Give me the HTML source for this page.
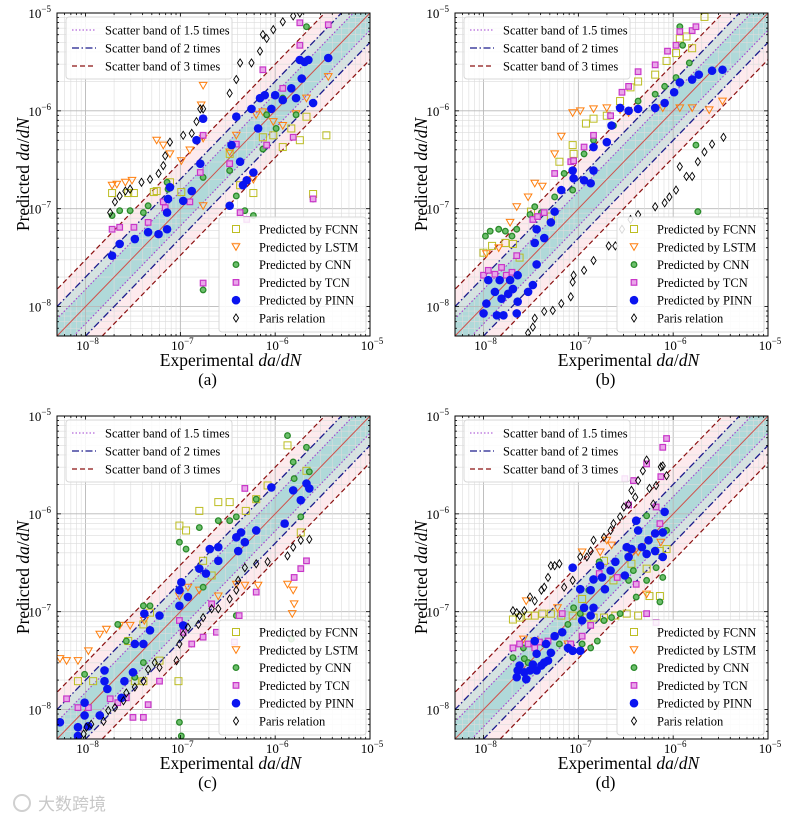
<!DOCTYPE html>
<html><head><meta charset="utf-8">
<style>
html,body{margin:0;padding:0;background:#fff;}
svg{display:block;font-family:"Liberation Serif","Noto Serif CJK SC",serif;}
</style></head>
<body>
<svg id="fig" width="812" height="820" viewBox="0 0 812 820" xmlns="http://www.w3.org/2000/svg"></svg>
<script>
// ===== Data (log10 values of da/dN: [experimental, predicted]) =====
const aFCNN=[[-7.72,-6.84],[-7.55,-6.84],[-7.49,-6.84],[-7.28,-6.83],[-7.25,-6.82],[-7.11,-6.73],[-6.99,-6.83],[-6.48,-6.44],[-6.37,-6.76],[-6.23,-6.84],[-6.13,-6.27],[-6.02,-6.25],[-5.92,-6.37],[-5.83,-6.18],[-5.74,-6.30],[-5.67,-6.06],[-5.46,-6.25],[-5.60,-6.85]];
const aLSTM=[[-7.72,-6.76],[-7.67,-6.75],[-7.58,-6.73],[-7.51,-6.71],[-7.25,-6.30],[-7.18,-6.35],[-7.11,-6.44],[-6.99,-6.51],[-6.90,-6.40],[-6.76,-5.74],[-6.78,-5.94],[-6.76,-6.28],[-6.76,-6.97],[-6.48,-6.42],[-6.41,-6.25],[-6.42,-7.38],[-6.23,-6.70],[-6.20,-6.04],[-6.13,-6.01],[-6.02,-6.11],[-5.92,-6.15],[-5.78,-6.03],[-5.67,-5.87],[-5.44,-5.65]];
const aCNN=[[-7.72,-7.07],[-7.64,-7.02],[-7.53,-7.02],[-7.39,-7.04],[-7.34,-6.97],[-7.14,-6.73],[-7.13,-6.80],[-6.76,-6.68],[-6.48,-6.61],[-6.41,-6.87],[-6.32,-7.02],[-6.23,-7.07],[-6.13,-6.39],[-6.09,-6.04],[-5.99,-6.18],[-5.92,-5.87],[-5.78,-6.04],[-5.67,-5.14],[-6.76,-7.83],[-5.60,-6.90]];
const aTCN=[[-7.72,-7.21],[-7.64,-7.19],[-7.49,-7.19],[-7.34,-7.14],[-7.18,-6.93],[-7.16,-6.99],[-6.90,-6.93],[-6.76,-6.25],[-6.79,-6.63],[-6.48,-6.54],[-6.41,-6.34],[-6.37,-7.04],[-6.30,-7.11],[-6.13,-5.58],[-6.09,-6.35],[-5.92,-5.77],[-5.81,-6.27],[-5.74,-5.33],[-5.74,-5.10],[-5.44,-5.12],[-5.60,-6.90],[-6.76,-7.76]];
const aPINN=[[-7.72,-7.48],[-7.64,-7.36],[-7.48,-7.31],[-7.34,-7.24],[-7.23,-7.26],[-7.14,-7.21],[-7.14,-7.04],[-7.13,-6.90],[-7.11,-6.78],[-6.97,-6.92],[-6.88,-6.82],[-6.83,-6.30],[-6.79,-6.54],[-6.76,-6.08],[-6.48,-6.97],[-6.46,-6.35],[-6.41,-6.06],[-6.37,-6.52],[-6.34,-6.76],[-6.30,-6.71],[-6.25,-5.98],[-6.23,-6.63],[-6.18,-6.18],[-6.16,-5.87],[-6.11,-5.84],[-6.04,-5.98],[-6.00,-5.84],[-5.92,-5.89],[-5.83,-5.77],[-5.78,-5.87],[-5.74,-5.48],[-5.72,-5.67],[-5.69,-5.50],[-5.65,-5.48],[-5.60,-5.92],[-5.44,-5.46]];
const aParis=[[-7.74,-7.04],[-7.69,-6.93],[-7.64,-6.87],[-7.58,-6.82],[-7.53,-6.80],[-7.41,-6.73],[-7.32,-6.70],[-7.23,-6.64],[-7.18,-6.56],[-7.16,-6.46],[-7.11,-6.32],[-6.97,-6.25],[-6.88,-6.23],[-6.83,-6.11],[-6.79,-5.98],[-6.76,-5.98],[-6.48,-5.82],[-6.41,-5.68],[-6.37,-5.51],[-6.25,-5.51],[-6.16,-5.39],[-6.13,-5.22],[-6.09,-5.26],[-6.02,-5.17],[-5.92,-5.09],[-5.81,-5.03],[-5.74,-5.00]];

const bFCNN=[[-8.00,-7.45],[-7.91,-7.38],[-7.77,-7.35],[-7.69,-7.36],[-7.62,-7.50],[-7.50,-7.03],[-7.29,-7.08],[-7.20,-6.52],[-7.06,-6.35],[-7.05,-6.44],[-6.92,-6.13],[-6.84,-6.08],[-6.70,-6.05],[-6.56,-5.90],[-6.45,-5.76],[-6.37,-5.70],[-6.19,-5.63],[-6.07,-5.49],[-5.97,-5.41],[-5.93,-5.26],[-5.86,-5.24],[-5.80,-5.36],[-5.67,-5.04]];
const bLSTM=[[-7.97,-7.46],[-7.84,-7.40],[-7.72,-7.14],[-7.65,-6.98],[-7.53,-6.88],[-7.46,-6.74],[-7.38,-6.77],[-7.25,-6.44],[-7.18,-6.26],[-7.06,-6.02],[-6.98,-6.00],[-6.84,-5.98],[-6.70,-5.97],[-6.56,-5.99],[-6.47,-6.02],[-6.11,-5.97],[-5.93,-5.97],[-5.80,-5.97],[-5.62,-5.99],[-5.48,-5.90]];
const bCNN=[[-7.98,-7.28],[-7.93,-7.23],[-7.84,-7.21],[-7.77,-7.23],[-7.70,-7.28],[-7.65,-7.21],[-7.51,-7.06],[-7.46,-6.98],[-7.39,-7.04],[-7.25,-6.88],[-7.15,-6.64],[-7.06,-6.81],[-6.94,-6.44],[-6.84,-6.30],[-6.63,-6.15],[-6.37,-5.90],[-6.19,-5.83],[-6.09,-5.75],[-5.97,-5.66],[-5.90,-5.33],[-5.83,-5.51],[-5.76,-6.35],[-5.74,-7.03],[-5.93,-5.14]];
const bTCN=[[-8.00,-7.68],[-7.95,-7.63],[-7.88,-7.67],[-7.81,-7.60],[-7.76,-7.68],[-7.70,-7.65],[-7.65,-7.48],[-7.48,-7.11],[-7.43,-7.08],[-7.36,-7.04],[-7.25,-6.64],[-7.08,-6.52],[-7.05,-6.51],[-6.94,-6.37],[-6.84,-6.25],[-6.66,-6.05],[-6.54,-5.81],[-6.47,-5.75],[-6.37,-5.60],[-6.19,-5.53],[-6.06,-5.39],[-5.97,-5.33],[-5.93,-5.19],[-5.80,-5.18],[-5.76,-5.14]];
const bPINN=[[-8.00,-8.07],[-7.97,-7.97],[-7.95,-7.73],[-7.88,-7.85],[-7.86,-8.09],[-7.83,-7.73],[-7.81,-7.92],[-7.79,-8.09],[-7.74,-7.87],[-7.72,-7.73],[-7.69,-7.82],[-7.65,-8.07],[-7.64,-7.95],[-7.64,-7.68],[-7.53,-7.85],[-7.48,-7.78],[-7.44,-7.57],[-7.46,-7.35],[-7.44,-7.21],[-7.36,-7.30],[-7.29,-7.14],[-7.25,-7.03],[-7.18,-6.81],[-7.06,-6.61],[-7.05,-6.69],[-6.94,-6.71],[-6.87,-6.74],[-6.84,-6.61],[-6.84,-6.37],[-6.70,-6.32],[-6.65,-6.15],[-6.56,-5.97],[-6.47,-6.00],[-6.37,-5.98],[-6.19,-5.97],[-6.09,-5.92],[-5.99,-5.81],[-5.93,-5.71],[-5.80,-5.68],[-5.73,-5.63],[-5.59,-5.59],[-5.48,-5.58]];
const bParis=[[-7.53,-8.27],[-7.48,-8.21],[-7.46,-8.12],[-7.36,-8.05],[-7.27,-8.04],[-7.18,-7.97],[-7.08,-7.90],[-7.06,-7.75],[-7.05,-7.68],[-6.94,-7.63],[-6.84,-7.53],[-6.68,-7.38],[-6.61,-7.38],[-6.54,-7.21],[-6.45,-7.11],[-6.37,-7.06],[-6.19,-6.98],[-6.09,-6.94],[-6.04,-6.88],[-5.97,-6.81],[-5.93,-6.57],[-5.86,-6.67],[-5.80,-6.67],[-5.74,-6.52],[-5.67,-6.42],[-5.59,-6.34],[-5.47,-6.27]];

const cFCNN=[[-8.08,-7.71],[-7.92,-7.71],[-7.48,-7.71],[-7.39,-7.71],[-7.55,-7.30],[-7.39,-7.13],[-7.32,-7.01],[-7.22,-7.50],[-7.02,-7.71],[-7.01,-6.12],[-6.94,-6.17],[-6.80,-5.97],[-6.76,-6.48],[-6.67,-6.63],[-6.60,-5.88],[-6.48,-5.88],[-6.31,-5.97],[-6.20,-5.85],[-6.08,-5.71],[-5.87,-5.30],[-5.73,-6.19],[-5.67,-5.56]];
const cLSTM=[[-8.27,-7.48],[-8.20,-7.50],[-8.08,-7.50],[-7.97,-7.40],[-7.85,-7.23],[-7.78,-7.18],[-7.64,-7.14],[-7.53,-7.14],[-7.38,-7.09],[-7.01,-6.84],[-6.92,-6.75],[-6.80,-6.78],[-6.60,-6.84],[-6.41,-6.72],[-6.32,-6.73],[-6.18,-6.73],[-5.87,-6.72],[-5.81,-6.78],[-5.80,-6.92],[-5.82,-7.02]];
const cCNN=[[-8.01,-7.64],[-7.66,-7.13],[-7.57,-7.30],[-7.39,-6.94],[-7.32,-6.94],[-7.39,-7.52],[-7.48,-7.67],[-7.01,-6.29],[-6.94,-6.36],[-7.01,-8.13],[-6.99,-8.27],[-6.80,-6.14],[-6.76,-6.75],[-6.60,-6.07],[-6.48,-6.07],[-6.41,-6.03],[-6.41,-7.04],[-6.20,-5.85],[-5.87,-5.20],[-5.81,-5.47],[-5.80,-5.64],[-5.73,-6.03],[-5.67,-5.32],[-5.64,-5.57],[-5.83,-7.28]];
const cTCN=[[-8.20,-7.89],[-8.08,-7.98],[-7.97,-7.98],[-7.74,-7.89],[-7.66,-7.93],[-7.57,-7.88],[-7.50,-8.08],[-7.39,-8.08],[-7.34,-7.95],[-7.22,-7.71],[-7.01,-7.09],[-6.97,-7.21],[-6.88,-7.33],[-6.76,-7.26],[-6.67,-6.92],[-6.62,-7.21],[-6.43,-7.31],[-6.38,-7.04],[-6.32,-5.74],[-6.20,-6.80],[-5.90,-6.10],[-5.80,-6.65],[-5.73,-6.56],[-5.67,-6.48]];
const cPINN=[[-8.27,-8.13],[-8.08,-8.18],[-8.08,-8.27],[-8.01,-7.93],[-8.01,-8.06],[-7.97,-8.17],[-7.85,-8.06],[-7.80,-7.60],[-7.80,-7.71],[-7.77,-7.79],[-7.62,-7.88],[-7.59,-7.71],[-7.50,-7.62],[-7.48,-7.33],[-7.39,-7.33],[-7.38,-7.02],[-7.32,-7.19],[-7.22,-7.04],[-7.01,-6.78],[-7.01,-6.94],[-6.99,-6.70],[-6.97,-7.14],[-6.92,-6.85],[-6.80,-6.56],[-6.73,-6.61],[-6.69,-6.36],[-6.60,-6.48],[-6.60,-6.34],[-6.41,-6.24],[-6.39,-6.38],[-6.36,-6.19],[-6.32,-6.29],[-6.20,-6.17],[-6.04,-5.73],[-5.90,-6.10],[-5.81,-5.76],[-5.73,-5.86],[-5.67,-5.69],[-5.64,-5.74]];
const cParis=[[-8.02,-8.25],[-7.99,-8.18],[-7.94,-8.15],[-7.81,-8.12],[-7.76,-8.01],[-7.69,-7.98],[-7.60,-7.91],[-7.57,-7.83],[-7.48,-7.77],[-7.39,-7.71],[-7.34,-7.59],[-7.27,-7.52],[-7.22,-7.57],[-7.04,-7.50],[-7.01,-7.33],[-6.97,-7.23],[-6.92,-7.16],[-6.81,-7.13],[-6.76,-7.06],[-6.67,-6.97],[-6.60,-6.97],[-6.48,-6.87],[-6.41,-6.78],[-6.39,-6.68],[-6.32,-6.55],[-6.20,-6.51],[-6.08,-6.49],[-5.87,-6.43],[-5.81,-6.34],[-5.73,-6.27],[-5.64,-6.26]];

const dFCNN=[[-7.69,-7.08],[-7.62,-7.06],[-7.53,-7.04],[-7.46,-7.04],[-7.38,-7.02],[-7.29,-7.02],[-7.18,-7.04],[-7.06,-7.04],[-6.96,-6.87],[-6.91,-7.06],[-6.84,-7.06],[-6.73,-7.06],[-6.61,-7.04],[-6.49,-7.02],[-6.37,-7.04],[-6.25,-6.84],[-6.14,-6.84],[-6.28,-6.56],[-6.07,-6.36],[-6.44,-6.51],[-6.63,-6.68],[-6.73,-6.48],[-6.14,-6.38]];
const dLSTM=[[-7.58,-7.28],[-7.46,-7.30],[-7.55,-6.89],[-6.96,-6.39],[-6.77,-6.39],[-6.70,-6.27],[-6.65,-6.32],[-6.44,-6.41],[-6.37,-6.39],[-6.28,-6.82],[-6.13,-6.29],[-7.22,-6.96],[-7.11,-7.33]];
const dCNN=[[-7.69,-7.47],[-7.57,-7.48],[-7.53,-7.52],[-7.58,-7.37],[-7.36,-7.33],[-7.20,-7.33],[-7.11,-7.13],[-7.05,-6.96],[-6.98,-7.02],[-6.96,-7.33],[-6.87,-7.37],[-6.80,-7.30],[-6.73,-7.09],[-6.65,-7.06],[-6.56,-7.02],[-6.47,-6.68],[-6.42,-6.58],[-6.39,-6.85],[-6.28,-6.68],[-6.18,-6.55],[-6.14,-6.90],[-6.07,-6.17],[-6.11,-6.65],[-6.28,-6.02],[-6.78,-6.49],[-6.89,-6.78]];
const dTCN=[[-7.69,-7.37],[-7.62,-7.33],[-7.53,-7.33],[-7.46,-7.37],[-7.41,-7.31],[-7.32,-7.30],[-7.17,-7.02],[-7.08,-7.33],[-6.96,-7.25],[-6.87,-7.14],[-6.78,-6.61],[-6.59,-6.65],[-6.47,-5.91],[-6.51,-5.64],[-6.42,-5.66],[-6.28,-5.49],[-6.18,-5.93],[-6.14,-6.10],[-6.13,-5.62],[-6.11,-5.32],[-6.07,-5.23],[-6.39,-6.72],[-6.28,-7.02],[-6.18,-7.11]];
const dPINN=[[-7.65,-7.67],[-7.64,-7.60],[-7.62,-7.55],[-7.57,-7.62],[-7.55,-7.69],[-7.51,-7.60],[-7.48,-7.54],[-7.44,-7.60],[-7.39,-7.55],[-7.36,-7.52],[-7.32,-7.50],[-7.44,-7.43],[-7.46,-7.30],[-7.34,-7.33],[-7.29,-7.42],[-7.25,-7.25],[-7.17,-7.21],[-7.11,-7.37],[-7.06,-7.40],[-6.98,-7.40],[-6.96,-7.09],[-6.87,-7.04],[-6.84,-6.96],[-6.87,-6.78],[-6.98,-6.77],[-6.84,-6.67],[-6.75,-6.65],[-6.72,-6.77],[-6.66,-6.58],[-6.61,-6.49],[-6.51,-6.63],[-6.47,-6.44],[-6.44,-6.36],[-6.39,-6.07],[-6.37,-6.17],[-6.28,-6.41],[-6.26,-6.27],[-6.19,-6.38],[-6.19,-6.20],[-6.11,-6.19],[-6.09,-5.98],[-6.49,-6.34],[-6.33,-6.34],[-6.11,-6.44],[-7.06,-6.55],[-6.77,-6.53],[-6.94,-6.96]];
const dParis=[[-7.69,-6.99],[-7.65,-7.01],[-7.62,-7.04],[-7.57,-6.99],[-7.51,-6.85],[-7.46,-6.89],[-7.39,-6.78],[-7.36,-6.75],[-7.32,-6.65],[-7.29,-6.53],[-7.25,-6.53],[-7.20,-6.51],[-7.15,-6.75],[-7.06,-6.68],[-6.98,-6.44],[-6.91,-6.44],[-6.87,-6.38],[-6.84,-6.27],[-6.73,-6.24],[-6.66,-6.17],[-6.63,-6.10],[-6.56,-6.03],[-6.52,-5.93],[-6.47,-5.90],[-6.44,-5.76],[-6.40,-5.83],[-6.37,-5.66],[-6.32,-5.56],[-6.28,-5.45],[-6.25,-5.74],[-6.21,-5.90],[-6.18,-5.71],[-6.13,-5.52],[-6.11,-5.51],[-6.07,-5.61]];

const tickExps=[-8,-7,-6,-5];
const bandFactors=[3,2,1.5];
const seriesNames=["FCNN","LSTM","CNN","TCN","PINN","Paris"];
const legendBandLabels=["Scatter band of 1.5 times","Scatter band of 2 times","Scatter band of 3 times"];
const legendSeriesLabels=["Predicted by FCNN","Predicted by LSTM","Predicted by CNN","Predicted by TCN","Predicted by PINN","Paris relation"];
const panelLabels=["(a)","(b)","(c)","(d)"];

const NS="http://www.w3.org/2000/svg";
const svg=document.getElementById('fig');
const LMIN=-8.30103, LSPAN=3.30103;
function mk(tag,attrs,parent){const e=document.createElementNS(NS,tag);for(const k in attrs)e.setAttribute(k,attrs[k]);(parent||svg).appendChild(e);return e;}

const panels=[
 {id:'a',left:57,right:370,top:13,bottom:336,data:[aFCNN,aLSTM,aCNN,aTCN,aPINN,aParis]},
 {id:'b',left:455,right:768,top:13,bottom:336,data:[bFCNN,bLSTM,bCNN,bTCN,bPINN,bParis]},
 {id:'c',left:57,right:370,top:416,bottom:739,data:[cFCNN,cLSTM,cCNN,cTCN,cPINN,cParis]},
 {id:'d',left:455,right:768,top:416,bottom:739,data:[dFCNN,dLSTM,dCNN,dTCN,dPINN,dParis]}
];
function X(p,l){return p.left+(l-LMIN)*(p.right-p.left)/LSPAN;}
function Y(p,l){return p.bottom-(l-LMIN)*(p.bottom-p.top)/LSPAN;}

function marker(g,kind,x,y){
 let e;
 if(kind==="FCNN"){e=mk('rect',{x:x-3.5,y:y-3.5,width:7,height:7,fill:'none',stroke:'#bcbd22','stroke-width':1},g);}
 else if(kind==="LSTM"){e=mk('polygon',{points:`${x-3.8},${y-3} ${x+3.8},${y-3} ${x},${y+3.6}`,fill:'none',stroke:'#ff7f0e','stroke-width':1},g);}
 else if(kind==="CNN"){e=mk('circle',{cx:x,cy:y,r:2.8,fill:'#6cbf6c',stroke:'#2a8a2a','stroke-width':1.3},g);}
 else if(kind==="TCN"){e=mk('rect',{x:x-2.8,y:y-2.8,width:5.6,height:5.6,fill:'#e9a6e9',stroke:'#c837c8','stroke-width':1.2},g);}
 else if(kind==="PINN"){e=mk('circle',{cx:x,cy:y,r:4.3,fill:'#0a14f0',stroke:'none'},g);}
 else {e=mk('polygon',{points:`${x},${y-4} ${x+2.6},${y} ${x},${y+4} ${x-2.6},${y}`,fill:'none',stroke:'#000','stroke-width':0.9},g);}
 return e;
}
function tickLabel(g,x,y,exp,anchor){
 const t=mk('text',{x:x,y:y,'font-size':13,'text-anchor':anchor,fill:'#000'},g);
 
 
 t.appendChild(document.createTextNode('10'));
 const s=mk('tspan',{dy:-6,'font-size':9},t);s.textContent='\u2212'+(-exp);
 return t;
}

panels.forEach((p,pi)=>{
 const g=mk('g',{});
 
 
 const cp=mk('clipPath',{id:'clip'+p.id},g);
 mk('rect',{x:p.left,y:p.top,width:p.right-p.left,height:p.bottom-p.top},cp);
 const inner=mk('g',{'clip-path':`url(#clip${p.id})`},g);
 const bandFill={3:'#fdeaed',2:'#d5e3e1',1.5:'#b0d9d9'};
 bandFactors.forEach(k=>{
  const lk=Math.log10(k),a=-9,b=-4;
  const pg=mk('polygon',{points:`${X(p,a)},${Y(p,a+lk)} ${X(p,b)},${Y(p,b+lk)} ${X(p,b)},${Y(p,b-lk)} ${X(p,a)},${Y(p,a-lk)}`,fill:bandFill[k]},inner);
  
  
 });
 for(let d=-9;d<=-5;d++){for(let m=1;m<=9;m++){
  const l=d+Math.log10(m); if(l<LMIN||l>-5)continue;
  const major=(m===1);
  const col=major?'#b8b8b8':'#dcdcdc',w=major?0.9:0.6;
  const gx=mk('line',{x1:X(p,l),x2:X(p,l),y1:p.top,y2:p.bottom,stroke:col,'stroke-width':w},inner);
  
  
  const gy=mk('line',{x1:p.left,x2:p.right,y1:Y(p,l),y2:Y(p,l),stroke:col,'stroke-width':w},inner);
  
  
 }}
 const a=-9,b=-4;
 const ref=mk('line',{x1:X(p,a),y1:Y(p,a),x2:X(p,b),y2:Y(p,b),stroke:'#d0504a','stroke-width':1},inner);
 
 
 const lineStyle={1.5:{stroke:'#a040d0',dash:'1.5,2',w:1.1},2:{stroke:'#1c1c8c',dash:'7,2.5,1.5,2.5',w:1.3},3:{stroke:'#8b1010',dash:'5,3',w:1.2}};
 bandFactors.forEach(k=>{
  const lk=Math.log10(k),st=lineStyle[k];
  [lk,-lk].forEach(o=>{
   const ln=mk('line',{x1:X(p,a),y1:Y(p,a+o),x2:X(p,b),y2:Y(p,b+o),stroke:st.stroke,'stroke-width':st.w,'stroke-dasharray':st.dash},inner);
   
   
  });
 });
 seriesNames.forEach((s,si)=>{
  const sg=mk('g',{},inner);
  
  
  p.data[si].forEach(pt=>{
   const e=marker(sg,s,X(p,pt[0]),Y(p,pt[1]));
   
   
  });
 });
 const fr=mk('rect',{x:p.left,y:p.top,width:p.right-p.left,height:p.bottom-p.top,fill:'none',stroke:'#000','stroke-width':1},g);
 
 
 for(let d=-9;d<=-5;d++){for(let m=1;m<=9;m++){
  const l=d+Math.log10(m); if(l<LMIN-0.001||l>-4.999)continue;
  const len=m===1?4:2;
  const x=X(p,l),y=Y(p,l);
  [[x,p.bottom,x,p.bottom-len],[x,p.top,x,p.top+len],[p.left,y,p.left+len,y],[p.right,y,p.right-len,y]].forEach(c=>{
   const t=mk('line',{x1:c[0],y1:c[1],x2:c[2],y2:c[3],stroke:'#000','stroke-width':0.8},g);
   
   
  });
 }}
 tickExps.forEach(e=>{
  tickLabel(g,X(p,e)+2,p.bottom+14,e,'middle');
  tickLabel(g,p.left-6,Y(p,e)+5,e,'end');
 });
 const cx=(p.left+p.right)/2+17;
 const xt=mk('text',{x:cx,y:p.bottom+30,'font-size':17.5,'text-anchor':'middle'},g);
 
 
 xt.innerHTML='Experimental <tspan font-style="italic">da</tspan>/<tspan font-style="italic">dN</tspan>';
 const cy=(p.top+p.bottom)/2;
 const yt=mk('text',{x:0,y:0,'font-size':17.5,'text-anchor':'middle',transform:`translate(${p.left-28},${cy}) rotate(-90)`},g);
 
 
 yt.innerHTML='Predicted <tspan font-style="italic">da</tspan>/<tspan font-style="italic">dN</tspan>';
 const pl=mk('text',{x:(p.left+p.right)/2-6,y:p.bottom+49,'font-size':17,'text-anchor':'middle'},g);
 
 
 pl.textContent=panelLabels[pi];
 const ox=p.left,oy=p.top;
 const lg=mk('g',{},g);
 
 
 mk('rect',{x:ox+9,y:oy+4,width:166,height:62,rx:3,fill:'#fff','fill-opacity':0.85,stroke:'#d8d8d8'},lg);
 const legStyles=[lineStyle[1.5],lineStyle[2],lineStyle[3]];
 legendBandLabels.forEach((lab,i)=>{
  const yy=oy+17+i*18;
  const ll=mk('line',{x1:ox+15,x2:ox+39,y1:yy,y2:yy,stroke:legStyles[i].stroke,'stroke-width':legStyles[i].w,'stroke-dasharray':legStyles[i].dash},lg);
  
  
  const tt=mk('text',{x:ox+48,y:yy+4.5,'font-size':12.5},lg);
  
  
  tt.textContent=lab;
 });
 const sl=mk('g',{},g);
 
 
 const lx0=p.left+162,ly0=p.top+204;
 mk('rect',{x:lx0,y:ly0,width:147,height:115,rx:3,fill:'#fff','fill-opacity':0.85,stroke:'#d8d8d8'},sl);
 seriesNames.forEach((s,i)=>{
  const yy=ly0+12+i*17.8;
  const m=marker(sl,s,lx0+17,yy);
  
  
  const tt=mk('text',{x:lx0+40,y:yy+4.5,'font-size':12.5},sl);
  
  
  tt.textContent=legendSeriesLabels[i];
 });
});
const wm=mk('text',{x:38,y:810,'font-size':17,fill:'#c8c8c8','font-family':'"Liberation Sans","Noto Sans CJK SC",sans-serif'});


wm.textContent='大数跨境';
const wl=mk('circle',{cx:22,cy:803,r:8,fill:'none',stroke:'#d0d0d0','stroke-width':2});


</script>
</body></html>
